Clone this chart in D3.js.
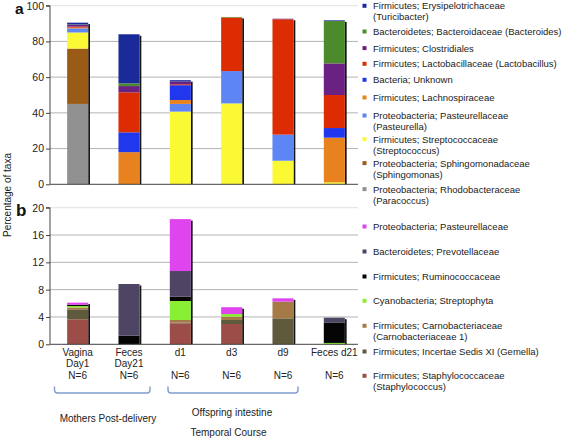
<!DOCTYPE html>
<html><head><meta charset="utf-8">
<script src="https://cdn.jsdelivr.net/npm/d3@7"></script>
<style>
html,body{margin:0;padding:0;background:#fff;}
svg{display:block;font-family:"Liberation Sans",Arial,Helvetica,sans-serif;}
</style></head>
<body>
<script>
// ---------- DATA ----------
const categories = ["Vagina Day1","Feces Day21","d1","d3","d9","Feces d21"];
const labelLine1 = ["Vagina","Feces","d1","d3","d9","Feces d21"];
const labelLine2 = ["Day1","Day21","","","",""];
const labelLine3 = ["N=6","N=6","N=6","N=6","N=6","N=6"];

// Panel a series (bottom -> top of stack), segment heights in %
const topKeys = ["Paracoccus","Sphingomonas","Streptococcus","Pasteurella","Lachnospiraceae","Unknown","Lactobacillus","Clostridiales","Bacteroides","Turicibacter"];
const paracoccus      = [45.0, 0,    0,    0,    0,    0];
const sphingomonas    = [31.0, 0,    0,    0,    0,    0];
const streptococcus   = [9.0,  0,    40.7, 45.3, 13.2, 1.1];
const pasteurella     = [2.3,  0,    4.3,  18.1, 14.6, 0];
const lachnospiraceae = [0.4,  18.0, 2.2,  0,    0,    25.0];
const unknownBact     = [0,    11.1, 8.3,  0,    0,    5.4];
const lactobacillus   = [0.6,  22.4, 0.5,  30.0, 64.6, 18.5];
const clostridiales   = [1.0,  3.5,  1.5,  0,    0.3,  17.7];
const bacteroides     = [0.2,  1.5,  0,    0.3,  0,    23.7];
const turicibacter    = [1.0,  27.5, 0.8,  0,    0,    0.4];
const topSeries = [paracoccus,sphingomonas,streptococcus,pasteurella,lachnospiraceae,unknownBact,lactobacillus,clostridiales,bacteroides,turicibacter];

// Panel b series (bottom -> top of stack)
const botKeys = ["Staphylococcaceae","Gemella","Carnobacteriaceae","Streptophyta","Ruminococcaceae","Prevotellaceae","Pasteurellaceae"];
const staphylococcaceae = [3.66, 0,    3.07, 2.97, 0,    0];
const gemella           = [1.46, 0,    0.10, 0.59, 3.80, 0];
const carnobacteriaceae = [0.28, 0,    0.39, 0.49, 2.44, 0];
const streptophyta      = [0.20, 0,    2.78, 0.38, 0,    0.20];
const ruminococcaceae   = [0.20, 1.27, 0.63, 0,    0,    3.00];
const prevotellaceae    = [0,    7.56, 3.76, 0,    0,    0.70];
const pasteurellaceae   = [0.30, 0,    7.60, 1.00, 0.49, 0];
const botSeries = [staphylococcaceae,gemella,carnobacteriaceae,streptophyta,ruminococcaceae,prevotellaceae,pasteurellaceae];

const topTicks = [0,20,40,60,80,100];
const botTicks = [0,4,8,12,16,20];

// Legend (top -> bottom as displayed)
const legendTop = [
  {key:"Turicibacter", lines:["Firmicutes; Erysipelotrichaceae","(Turicibacter)"]},
  {key:"Bacteroides", lines:["Bacteroidetes; Bacteroidaceae (Bacteroides)"]},
  {key:"Clostridiales", lines:["Firmicutes; Clostridiales"]},
  {key:"Lactobacillus", lines:["Firmicutes; Lactobacillaceae (Lactobacillus)"]},
  {key:"Unknown", lines:["Bacteria; Unknown"]},
  {key:"Lachnospiraceae", lines:["Firmicutes; Lachnospiraceae"]},
  {key:"Pasteurella", lines:["Proteobacteria; Pasteurellaceae","(Pasteurella)"]},
  {key:"Streptococcus", lines:["Firmicutes; Streptococcaceae","(Streptococcus)"]},
  {key:"Sphingomonas", lines:["Proteobacteria; Sphingomonadaceae","(Sphingomonas)"]},
  {key:"Paracoccus", lines:["Proteobacteria; Rhodobacteraceae","(Paracoccus)"]}
];
const legendBot = [
  {key:"Pasteurellaceae", lines:["Proteobacteria; Pasteurellaceae"]},
  {key:"Prevotellaceae", lines:["Bacteroidetes; Prevotellaceae"]},
  {key:"Ruminococcaceae", lines:["Firmicutes; Ruminococcaceae"]},
  {key:"Streptophyta", lines:["Cyanobacteria; Streptophyta"]},
  {key:"Carnobacteriaceae", lines:["Firmicutes; Carnobacteriaceae","(Carnobacteriaceae 1)"]},
  {key:"Gemella", lines:["Firmicutes; Incertae Sedis XI (Gemella)"]},
  {key:"Staphylococcaceae", lines:["Firmicutes; Staphylococcaceae","(Staphylococcus)"]}
];
const legendTopY = [6,31.7,48.3,64,80,97.7,115.7,139.3,163.3,189.3];
const legendBotY = [226.7,251.7,276.7,301,326,351.7,376];

const colors = {
  Turicibacter:"#1a2a98", Bacteroides:"#4b8b2b", Clostridiales:"#6b2182", Lactobacillus:"#de2c02",
  Unknown:"#2137ee", Lachnospiraceae:"#e8821f", Pasteurella:"#5e85f4", Streptococcus:"#fbf834",
  Sphingomonas:"#9a5b16", Paracoccus:"#919191",
  Pasteurellaceae:"#e044ee", Prevotellaceae:"#4e4564", Ruminococcaceae:"#050505", Streptophyta:"#8aee34",
  Carnobacteriaceae:"#a67a46", Gemella:"#5e5a3b", Staphylococcaceae:"#9c4d47"
};

// ---------- DRAW ----------
const W=562,H=438;
const svg=d3.select("body").append("svg").attr("width",W).attr("height",H);

const x=d3.scaleBand().domain(categories).range([52,360]).paddingInner(0.59).paddingOuter(0.295);
const yTop=d3.scaleLinear().domain([0,100]).range([184.3,5.7]);
const yBot=d3.scaleLinear().domain([0,20]).range([344.3,207.7]);
const axisX0=50, gridX1=358;

function buildRows(keys,series){
  return categories.map((c,i)=>{const r={cat:c}; keys.forEach((k,j)=>r[k]=series[j][i]); return r;});
}

function panel(keys,series,y,ticks){
  const g=svg.append("g");
  // gridlines
  g.selectAll("line.grid").data(ticks.filter(t=>t>0)).join("line")
    .attr("x1",axisX0).attr("x2",gridX1)
    .attr("y1",d=>y(d)).attr("y2",d=>y(d))
    .attr("stroke",(d,i,a)=>i===a.length-1?"#e2e2e2":"#b4b4b4").attr("stroke-width",1);
  const rows=buildRows(keys,series);
  const stacked=d3.stack().keys(keys)(rows);
  const totals=rows.map(r=>d3.sum(keys,k=>r[k]));
  // shadows
  g.selectAll("rect.sh").data(categories).join("rect")
    .attr("x",d=>x(d)+x.bandwidth()).attr("width",1.8)
    .attr("y",(d,i)=>y(totals[i])+1.5)
    .attr("height",(d,i)=>y(0)-y(totals[i])-1.5)
    .attr("fill","#151515");
  // bars
  g.selectAll("g.layer").data(stacked).join("g").attr("fill",d=>colors[d.key])
    .selectAll("rect").data(d=>d.filter(s=>s[1]-s[0]>0)).join("rect")
    .attr("x",d=>x(d.data.cat)).attr("width",x.bandwidth())
    .attr("y",d=>y(d[1])).attr("height",d=>y(d[0])-y(d[1]));
  // y axis
  const ax=g.append("g").attr("transform",`translate(${axisX0},0)`)
    .call(d3.axisLeft(y).tickValues(ticks).tickSize(4).tickPadding(2).tickFormat(d3.format("d")));
  ax.select(".domain").attr("stroke","#444").attr("d",`M-4,${y(ticks[ticks.length-1])}H0V${y(0)}`);
  ax.selectAll(".tick line").attr("stroke","#444");
  ax.selectAll(".tick text").attr("fill","#222").style("font-size","10.5px").style("font-family","Liberation Sans, Arial, sans-serif");
  // baseline
  g.append("line").attr("x1",axisX0).attr("x2",gridX1).attr("y1",y(0)).attr("y2",y(0)).attr("stroke","#444");
}
panel(topKeys,topSeries,yTop,topTicks);
panel(botKeys,botSeries,yBot,botTicks);

// x labels
const xl=svg.append("g").style("font-size","10px").attr("fill","#222").attr("text-anchor","middle");
[labelLine1,labelLine2,labelLine3].forEach((arr,li)=>{
  xl.selectAll(null).data(categories).join("text")
    .attr("x",d=>x(d)+x.bandwidth()/2).attr("y",356+li*11.3)
    .text((d,i)=>arr[i]);
});

// panel letters
svg.append("text").attr("x",15).attr("y",14).style("font-size","15.5px").style("font-weight","bold").attr("fill","#111").text("a");
svg.append("text").attr("x",16).attr("y",216).style("font-size","17px").style("font-weight","bold").attr("fill","#111").text("b");

// y title
svg.append("text").attr("transform","translate(11,195) rotate(-90)").attr("text-anchor","middle")
  .style("font-size","10px").attr("fill","#222").text("Percentage of taxa");

// legend
function legend(items,ys){
  const g=svg.append("g").style("font-size","9.5px").attr("fill","#222");
  items.forEach((it,i)=>{
    const yy=ys[i];
    g.append("rect").attr("x",362.5).attr("y",yy-2.2).attr("width",4).attr("height",4).attr("fill",colors[it.key]);
    it.lines.forEach((ln,j)=>{
      g.append("text").attr("x",373).attr("y",yy+3.4+j*11).text(ln);
    });
  });
}
legend(legendTop,legendTopY);
legend(legendBot,legendBotY);

// brackets
const br=svg.append("g").attr("fill","none").attr("stroke","#7c9dcb").attr("stroke-width",1.4);
function bracket(x0,x1){
  br.append("path").attr("d",`M${x0},386.5 L${x0},390 Q${x0},393 ${x0+3},393 L${x1-3},393 Q${x1},393 ${x1},390 L${x1},386.5`);
}
bracket(54.5,150);
bracket(168,298);
const ann=svg.append("g").style("font-size","10px").attr("fill","#222").attr("text-anchor","middle");
ann.append("text").attr("x",108).attr("y",421.5).text("Mothers Post-delivery");
ann.append("text").attr("x",232).attr("y",415.5).text("Offspring intestine");
ann.append("text").attr("x",228.5).attr("y",435.5).text("Temporal Course");
</script>
</body></html>
